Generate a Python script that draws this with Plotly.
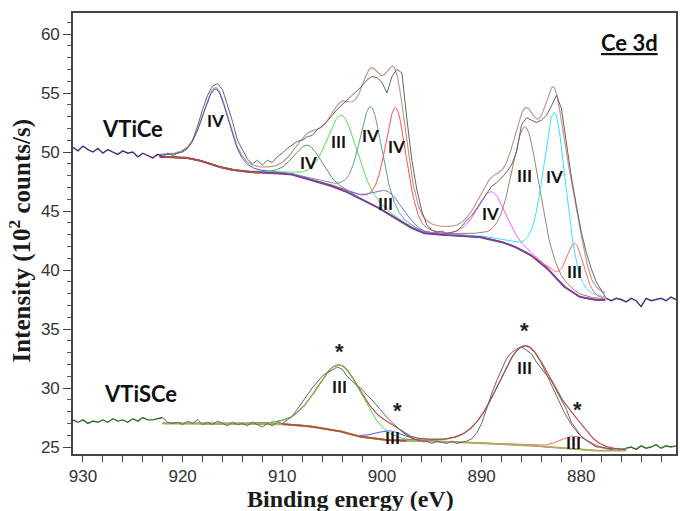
import numpy as np
import plotly.graph_objects as go

# ---------------- data ----------------
# raw spectra, sampled every 0.5 eV starting at 931 eV (descending)
vtice_raw = [50.4, 50.1, 50.5, 50.2, 50.0, 50.3, 49.9, 50.2, 50.0, 49.8, 50.1, 49.9, 50.0, 49.6,
             49.9, 49.7, 49.5, 49.8, 49.6, 49.9, 49.7, 49.9, 50.0, 50.3, 51.0, 52.2, 53.6, 54.8,
             55.6, 55.8, 55.3, 54.0, 52.6, 51.0, 50.2, 49.4, 49.0, 49.3, 48.9, 49.3, 49.1, 49.6,
             49.9, 50.3, 50.6, 50.9, 51.0, 51.3, 51.4, 51.9, 52.2, 52.6, 53.1, 53.6, 54.0, 54.4,
             54.8, 55.2, 55.6, 56.1, 56.4, 56.3, 55.9, 55.0, 56.4, 57.0, 56.7, 52.8, 49.3, 46.8,
             45.0, 43.8, 43.4, 43.2, 43.3, 43.1, 43.2, 43.3, 43.7, 44.2, 44.6, 45.2, 45.8, 46.5,
             47.1, 47.4, 47.8, 48.3, 48.9, 50.0, 52.3, 52.9, 52.7, 52.5, 52.7, 53.1, 53.9, 54.8,
             53.7, 50.8, 47.9, 45.5, 43.2, 41.5, 40.1, 39.0, 38.3, 37.6, 37.4, 37.6, 37.5, 37.3,
             37.6, 37.4, 36.9, 37.6, 37.4, 37.5, 37.6, 37.4, 37.7, 37.5]
vtisce_raw = [27.3, 27.1, 27.3, 27.0, 27.2, 27.1, 27.3, 27.1, 27.4, 27.2, 27.3, 27.1, 27.4, 27.2,
              27.5, 27.3, 27.3, 27.4, 27.5, 27.1, 27.0, 27.1, 26.9, 27.2, 27.0, 27.3, 26.9, 27.1,
              26.9, 27.2, 27.0, 26.8, 27.1, 26.9, 27.0, 26.8, 27.1, 26.9, 26.7, 27.0, 26.8, 27.1,
              27.0, 27.3, 27.6, 28.2, 28.8, 29.5, 30.0, 30.5, 31.0, 31.3, 31.5, 31.8, 31.6, 31.0,
              30.6, 30.2, 29.9, 29.4, 29.0, 28.5, 28.0, 27.5, 27.1, 26.7, 26.3, 26.0, 25.8, 25.6,
              25.5, 25.5, 25.3, 25.5, 25.4, 25.3, 25.5, 25.3, 25.4, 25.5, 25.7, 26.2, 27.0, 28.3,
              29.5, 30.6, 31.6, 32.5, 33.0, 33.3, 33.5, 33.2, 32.9, 32.2, 31.6, 31.1, 30.6, 29.8,
              29.0, 28.2, 27.1, 26.5, 25.9, 25.6, 25.3, 25.0, 25.0, 24.9, 24.8, 24.9, 24.8, 24.9,
              25.0, 24.8, 25.1, 24.9, 25.0, 25.2, 24.9, 25.1, 25.0, 25.1]

# Shirley-type backgrounds (energy, intensity)
vtice_bg_e = [922.3, 920.0, 918.5, 917.0, 915.5, 914.0, 912.3, 909.3, 906.0, 904.0, 902.3, 901.0,
              899.3, 897.6, 896.0, 894.6, 892.0, 890.3, 888.5, 887.0, 885.3, 883.6, 881.9, 880.3,
              879.0, 877.6]
vtice_bg_i = [49.6, 49.55, 49.35, 48.9, 48.55, 48.35, 48.25, 48.15, 47.4, 46.8, 46.1, 45.6,
              44.7, 43.8, 43.15, 43.0, 42.9, 42.8, 42.5, 42.1, 41.4, 40.3, 38.7, 37.75,
              37.5, 37.45]
vtisce_bg_e = [922.0, 915.0, 910.0, 908.0, 906.0, 904.0, 902.7, 900.0, 897.5, 895.3, 890.3, 885.3,
               882.0, 878.6, 875.5]
vtisce_bg_i = [27.0, 26.95, 26.95, 26.85, 26.6, 26.3, 25.95, 25.6, 25.52, 25.5, 25.35, 25.15,
               24.9, 24.7, 24.7]

# fitted components: centre (eV), height above background, FWHM (eV), colour
vtice_centre = [916.65, 907.4, 904.0, 901.1, 898.6, 899.3, 889.0, 885.6, 882.65, 880.6]
vtice_height = [6.5, 2.85, 6.3, 8.2, 9.4, 1.9, 4.05, 10.6, 13.9, 4.3]
vtice_fwhm = [3.1, 3.2, 3.6, 2.7, 2.5, 3.5, 3.4, 3.2, 2.7, 2.1]
vtice_color = ['#5252dc', '#5a965a', '#55e055', '#5f9e9e', '#ff5050', '#6a6aff',
               '#ff55ff', '#a67c72', '#38e2ff', '#ff6a6a']
vtisce_centre = [904.2, 899.3, 885.6, 880.6]
vtisce_height = [5.6, 0.8, 8.4, 1.1]
vtisce_fwhm = [5.4, 3.2, 6.4, 3.5]
vtisce_color = ['#44dd44', '#5555ff', '#8e5a50', '#ff6a6a']

# peak labels (energy, intensity, text)
lab_e = [916.7, 907.4, 904.4, 901.2, 898.5, 899.6, 889.1, 885.7, 882.7, 880.7,
         904.3, 898.9, 885.7, 880.8]
lab_i = [52.7, 49.15, 50.85, 51.4, 50.5, 45.6, 44.75, 48.05, 47.9, 39.9,
         30.1, 25.8, 31.7, 25.35]
lab_t = ['IV', 'IV', 'III', 'IV', 'IV', 'III', 'IV', 'III', 'IV', 'III',
         'III', 'III', 'III', 'III']
star_e = [904.3, 898.4, 885.7, 880.4]
star_i = [33.1, 28.1, 34.9, 28.2]

x_ticks = [930, 920, 910, 900, 890, 880]

# ---------------- helpers ----------------
def pv(x, c, a, f, eta=0.2):
    u = (x - c) / f
    return a * ((1 - eta) * np.exp(-4 * np.log(2) * u ** 2) + eta / (1 + 4 * u ** 2))

fig = go.Figure()

def add_line(x, y, color, width=1.0, shape='linear'):
    fig.add_trace(go.Scatter(x=x, y=y, mode='lines', hoverinfo='skip',
                             line=dict(color=color, width=width, shape=shape)))

def spectrum(raw, bg_e, bg_i, centres, heights, fwhms, colors, env_color,
             i_start, i_end, edge_color, bg_colors, bg_piece, eta):
    e_raw = 931.0 - 0.5 * np.arange(len(raw))
    raw = np.array(raw)
    bge = np.array(bg_e)
    bgi = np.array(bg_i)
    grid = np.linspace(bge[0], bge[-1], 600)
    base = np.interp(grid, bge[::-1], bgi[::-1])
    comps = [pv(grid, c, a, f, eta) for c, a, f in zip(centres, heights, fwhms)]
    env = base + np.sum(comps, axis=0)
    add_line(grid, env, env_color, 1.2)
    for comp, col in zip(comps, colors):
        add_line(grid, base + comp, col, 1.0)
    # background: main colour, plus a differently coloured piece
    add_line(grid, base, bg_colors[1], 1.9)
    a, b = bg_piece
    sel = (grid <= bge[a]) & (grid >= bge[b])
    add_line(grid[sel], base[sel], bg_colors[0], 1.7)
    # raw data: grey inside the fitted window, coloured outside it
    add_line(e_raw[i_start:i_end + 1], raw[i_start:i_end + 1], '#666666', 1.0)
    add_line(e_raw[:i_start + 1], raw[:i_start + 1], edge_color, 1.4)
    add_line(e_raw[i_end:], raw[i_end:], edge_color, 1.4)

spectrum(vtice_raw, vtice_bg_e, vtice_bg_i, vtice_centre, vtice_height, vtice_fwhm,
         vtice_color, '#c09a8c', 18, 107, '#4b2a84', ['#b0503a', '#7a3f9c'], (0, 6), 0.3)
spectrum(vtisce_raw, vtisce_bg_e, vtisce_bg_i, vtisce_centre, vtisce_height, vtisce_fwhm,
         vtisce_color, '#c0504a', 18, 111, '#2f6e2f', ['#b0503a', '#b0ac5c'], (2, 8), 0.1)

ann = []
for e, i, t in zip(lab_e, lab_i, lab_t):
    ann.append(dict(x=e, y=i, text='<b>' + t + '</b>', showarrow=False,
                    font=dict(family='Lato', size=17, color='#111111')))
for e, i in zip(star_e, star_i):
    ann.append(dict(x=e, y=i, text='<b>*</b>', showarrow=False,
                    font=dict(family='Liberation Sans', size=22, color='#222222')))
ann.append(dict(x=925.0, y=52.0, text='<b>VTiCe</b>', showarrow=False,
                font=dict(family='Lato', size=22, color='#111111')))
ann.append(dict(x=924.2, y=29.5, text='<b>VTiSCe</b>', showarrow=False,
                font=dict(family='Lato', size=22, color='#111111')))
ann.append(dict(x=875.2, y=59.3, text='<b><u>Ce 3d</u></b>', showarrow=False,
                font=dict(family='Lato', size=22, color='#111111')))
ann.append(dict(xref='paper', yref='paper', x=0.461, y=-0.101, xanchor='center',
                yanchor='middle', borderpad=0, text='<b>Binding energy (eV)</b>',
                showarrow=False,
                font=dict(family='Liberation Serif', size=24, color='#1a1a1a')))
ann.append(dict(xref='paper', yref='paper', x=-0.087, y=0.483, textangle=-90,
                xanchor='center', yanchor='middle',
                text='<b>Intensity (10<sup>2</sup> counts/s)</b>', showarrow=False,
                font=dict(family='Liberation Serif', size=25, color='#1a1a1a')))

fig.update_layout(
    width=680, height=511,
    margin=dict(l=73, r=2, t=13, b=57),
    plot_bgcolor='white', paper_bgcolor='white',
    showlegend=False, annotations=ann,
    xaxis=dict(range=[931, 870.5], tickmode='array', tickvals=x_ticks,
               ticks='outside', ticklen=6, tickwidth=1.3, tickcolor='#444444',
               minor=dict(tickmode='linear', tick0=930, dtick=2, ticks='outside',
                          ticklen=6, tickwidth=1.3, tickcolor='#444444'),
               showline=True, linecolor='#444444', linewidth=1.6, mirror=True,
               showgrid=False, zeroline=False,
               tickfont=dict(family='Liberation Sans', size=17, color='#333333')),
    yaxis=dict(range=[24.41, 61.78], tickmode='linear', tick0=0, dtick=5,
               ticks='outside', ticklen=8, tickwidth=1.3, tickcolor='#444444',
               minor=dict(tickmode='linear', tick0=0, dtick=1, ticks='outside',
                          ticklen=4, tickwidth=1.0, tickcolor='#555555'),
               showline=True, linecolor='#444444', linewidth=1.6, mirror=True,
               showgrid=False, zeroline=False,
               tickfont=dict(family='Liberation Sans', size=17, color='#333333')),
)

fig.write_html('out.html', config={'displayModeBar': False},
               post_script="document.body.style.margin='0px';")
